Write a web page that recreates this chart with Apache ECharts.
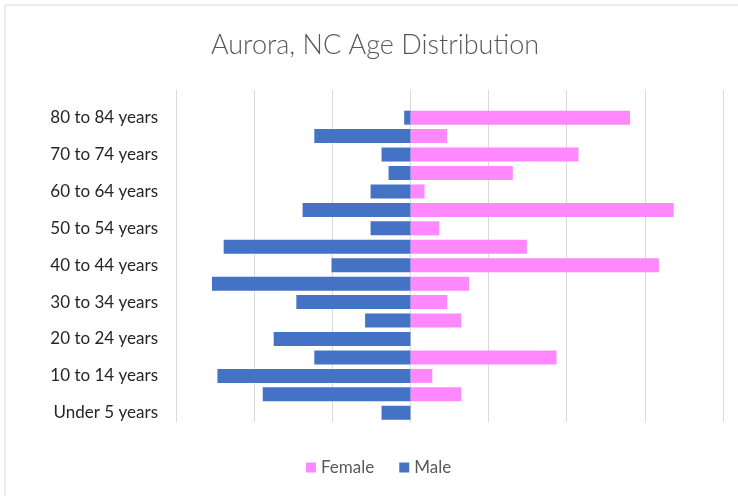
<!DOCTYPE html>
<html>
<head>
<meta charset="utf-8">
<script src="https://cdn.jsdelivr.net/npm/echarts@6/dist/echarts.min.js"></script>
<style>
html,body{margin:0;padding:0;background:#fff;}
#c{width:738px;height:496px;}
</style>
</head>
<body>
<div id="c"></div>
<script>
var categories = ["Under 5 years","5 to 9 years","10 to 14 years","15 to 19 years","20 to 24 years","25 to 29 years","30 to 34 years","35 to 39 years","40 to 44 years","45 to 49 years","50 to 54 years","55 to 59 years","60 to 64 years","65 to 69 years","70 to 74 years","75 to 79 years","80 to 84 years","85 years and over"];
var female = [0, 6.5, 2.8, 18.7, 0, 6.5, 4.7, 7.5, 31.8, 14.9, 3.7, 33.7, 1.8, 13.1, 21.5, 4.7, 28.1, 0];
var male = [-3.7, -18.9, -24.7, -12.3, -17.5, -5.8, -14.6, -25.4, -10.1, -23.9, -5.1, -13.8, -5.1, -2.8, -3.7, -12.3, -0.8, 0];
var xMin = -30, xMax = 40, xStep = 10;
var titleText = 'Aurora, NC Age Distribution';

var chart = echarts.init(document.getElementById('c'), null, {renderer:'canvas'});
chart.setOption({
  animation: false,
  backgroundColor: '#fff',
  graphic: [{
    type: 'rect', shape: {x: 5, y: 5, width: 760, height: 520},
    style: {fill: 'none', stroke: '#d9d9d9', lineWidth: 1}, silent: true, z: -1
  }, {
    type: 'text', x: 375, y: 45, silent: true,
    style: {text: titleText, align: 'center', verticalAlign: 'middle',
      font: '300 27px Lato', fill: '#595959'}
  }],
  legend: {
    data: ['Female', 'Male'],
    left: 306, top: 459, padding: 0,
    icon: 'rect', itemWidth: 10, itemHeight: 10, itemGap: 25,
    textStyle: {fontFamily: 'Lato', fontSize: 17, color: '#595959'}
  },
  grid: {left: 176, right: 15, top: 90, bottom: 74, containLabel: false},
  xAxis: {
    type: 'value', min: xMin, max: xMax, interval: xStep,
    axisLabel: {show: false}, axisLine: {show: false}, axisTick: {show: false},
    splitLine: {show: true, lineStyle: {color: '#d9d9d9', width: 1}}
  },
  yAxis: {
    type: 'category', data: categories,
    axisLine: {show: false, onZero: false}, axisTick: {show: false},
    axisLabel: {interval: 1, margin: 18, fontFamily: 'Lato', fontSize: 17, color: '#262626'}
  },
  series: [
    {name: 'Female', type: 'bar', data: female, barWidth: 14, barGap: '-100%',
     itemStyle: {color: '#FF88FF'}},
    {name: 'Male', type: 'bar', data: male, barWidth: 14, barGap: '-100%',
     itemStyle: {color: '#4472C4'}}
  ]
});
</script>
</body>
</html>
